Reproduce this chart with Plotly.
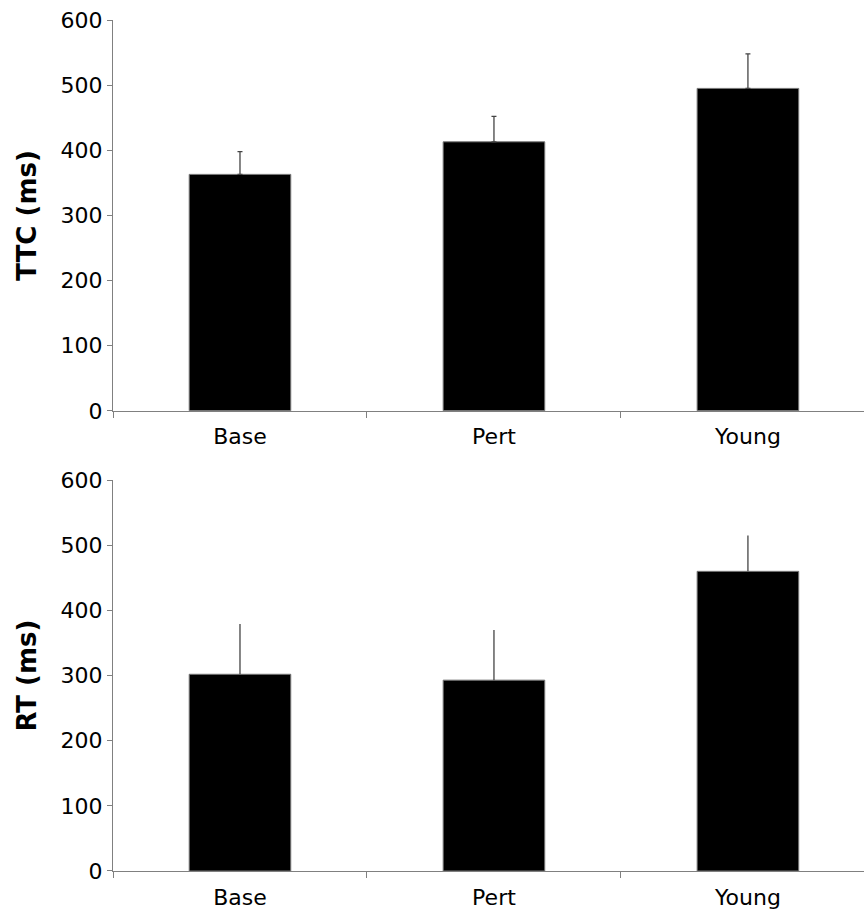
import plotly.graph_objects as go
from plotly.subplots import make_subplots

categories = ["Base", "Pert", "Young"]
ttc_values = [363, 413, 495]
ttc_err_upper = [35, 39, 53]
rt_values = [302, 293, 460]
rt_err_upper = [77, 77, 55]
y_ticks = [0, 100, 200, 300, 400, 500, 600]

FONT = "DejaVu Sans, Liberation Sans, Arial, sans-serif"
AXIS_COLOR = "#808080"

fig = make_subplots(rows=2, cols=1, shared_xaxes=False, vertical_spacing=0.08)

fig.add_trace(go.Bar(
    x=categories, y=ttc_values, width=0.4,
    marker=dict(color="black", line=dict(color="#777777", width=1)),
    error_y=dict(type="data", symmetric=False, array=ttc_err_upper,
                 arrayminus=[0, 0, 0], color="#444444", thickness=1.3, width=2.5),
    showlegend=False,
), row=1, col=1)

fig.add_trace(go.Bar(
    x=categories, y=rt_values, width=0.4,
    marker=dict(color="black", line=dict(color="#777777", width=1)),
    error_y=dict(type="data", symmetric=False, array=rt_err_upper,
                 arrayminus=[0, 0, 0], color="#444444", thickness=1.3, width=0),
    showlegend=False,
), row=2, col=1)

xaxis_common = dict(
    range=[-0.5, 2.457], showline=True, linecolor=AXIS_COLOR, linewidth=1.3,
    ticks="outside", tickson="boundaries", ticklen=6, tickcolor=AXIS_COLOR,
    showgrid=False, zeroline=False,
    tickfont=dict(family=FONT, size=22, color="black"),
    ticklabelstandoff=6,
)
yaxis_common = dict(
    range=[0, 600], tickvals=y_ticks, showline=True, linecolor=AXIS_COLOR,
    linewidth=1.3, ticks="outside", ticklen=5, tickcolor=AXIS_COLOR,
    showgrid=False, zeroline=False,
    tickfont=dict(family=FONT, size=22, color="black"),
)

fig.update_layout(
    width=864, height=911,
    margin=dict(l=113, r=0, t=20, b=40),
    plot_bgcolor="white", paper_bgcolor="white",
    xaxis=dict(**xaxis_common, domain=[0, 1]),
    xaxis2=dict(**xaxis_common, domain=[0, 1]),
    yaxis=dict(**yaxis_common, domain=[0.5407, 1.0],
               title=dict(text="<b>TTC (ms)</b>", standoff=16,
                          font=dict(family=FONT, size=26, color="black"))),
    yaxis2=dict(**yaxis_common, domain=[0.0, 0.4593],
                title=dict(text="<b>RT (ms)</b>", standoff=16,
                           font=dict(family=FONT, size=26, color="black"))),
    bargap=0.6,
)

fig.write_html("out.html")
